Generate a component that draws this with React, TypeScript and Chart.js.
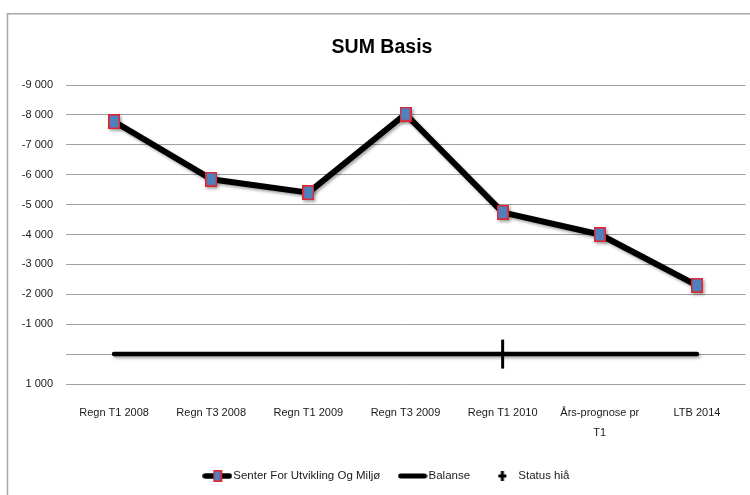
import { useEffect, useRef } from 'react';
import { Chart, registerables } from 'chart.js';

Chart.register(...registerables);

const categories: (string | string[])[] = [
  'Regn T1 2008',
  'Regn T3 2008',
  'Regn T1 2009',
  'Regn T3 2009',
  'Regn T1 2010',
  ['Års-prognose pr', 'T1'],
  'LTB 2014',
];
const senterValues = [-7780, -5850, -5400, -8030, -4740, -4000, -2300];
const balanseValues = [0, 0, 0, 0, 0, 0, 0];
const statusValues: (number | null)[] = [null, null, null, null, 0, null, null];
const seriesLabels = ['Senter For Utvikling Og Miljø', 'Balanse', 'Status hiå'];
const yMin = -9000;
const yMax = 1000;
const yStep = 1000;

const FONT = "'Liberation Sans', Arial, sans-serif";
const MARKER_FILL = '#4f81bd';
const MARKER_EDGE = '#e8212b';

function makeMarker(w: number, h: number) {
  const c = document.createElement('canvas');
  c.width = w;
  c.height = h;
  const ctx = c.getContext('2d')!;
  ctx.fillStyle = MARKER_FILL;
  ctx.fillRect(0, 0, w, h);
  ctx.strokeStyle = MARKER_EDGE;
  ctx.lineWidth = 1.5;
  ctx.strokeRect(0.75, 0.75, w - 1.5, h - 1.5);
  return c;
}

function makeLegendSenter() {
  const c = document.createElement('canvas');
  c.width = 30;
  c.height = 14;
  const ctx = c.getContext('2d')!;
  ctx.strokeStyle = '#000';
  ctx.lineWidth = 5.5;
  ctx.lineCap = 'round';
  ctx.beginPath();
  ctx.moveTo(3, 7);
  ctx.lineTo(27, 7);
  ctx.stroke();
  ctx.drawImage(makeMarker(9, 12), 10.5, 1);
  return c;
}

function makeLegendLine() {
  const c = document.createElement('canvas');
  c.width = 30;
  c.height = 14;
  const ctx = c.getContext('2d')!;
  ctx.strokeStyle = '#000';
  ctx.lineWidth = 5;
  ctx.lineCap = 'round';
  ctx.beginPath();
  ctx.moveTo(3, 7);
  ctx.lineTo(27, 7);
  ctx.stroke();
  return c;
}

function makeLegendStatus() {
  const c = document.createElement('canvas');
  c.width = 30;
  c.height = 14;
  const ctx = c.getContext('2d')!;
  ctx.fillStyle = '#000';
  ctx.fillRect(13.5, 2, 3, 10);
  ctx.fillRect(11, 5.5, 8, 3);
  return c;
}

const fmt = (v: number) => {
  if (v === 0) return '';
  const s = Math.abs(v).toString().replace(/\B(?=(\d{3})+(?!\d))/g, ' ');
  return (v < 0 ? '-' : '') + s;
};

const framePlugin = {
  id: 'frame',
  beforeDraw(chart: any) {
    const ctx = chart.ctx;
    ctx.save();
    ctx.fillStyle = '#fff';
    ctx.fillRect(0, 0, chart.width, chart.height);
    ctx.strokeStyle = '#a6a6a6';
    ctx.lineWidth = 1.5;
    ctx.strokeRect(7.5, 13.75, chart.width + 20, chart.height + 20);
    ctx.restore();
  },
};

// Excel-style: title and legend are centred on the outer frame, not on the canvas
const shiftPlugin = {
  id: 'shiftBlocks',
  afterLayout(chart: any) {
    if (chart.titleBlock) {
      chart.titleBlock.left += 9.25;
      chart.titleBlock.right += 9.25;
    }
    if (chart.legend) {
      chart.legend.left += 15.5;
      chart.legend.right += 15.5;
    }
  },
};

const shadowPlugin = {
  id: 'lineShadow',
  beforeDatasetDraw(chart: any, args: any) {
    if (args.index === 2) return;
    const ctx = chart.ctx;
    ctx.save();
    ctx.shadowColor = 'rgba(0,0,0,0.35)';
    ctx.shadowBlur = 3;
    ctx.shadowOffsetX = 1.5;
    ctx.shadowOffsetY = 2;
  },
  afterDatasetDraw(chart: any, args: any) {
    if (args.index === 2) return;
    chart.ctx.restore();
  },
};

export default function App() {
  const ref = useRef<HTMLCanvasElement>(null);
  useEffect(() => {
    const marker = makeMarker(12, 15);
    const legendIcons = [makeLegendSenter(), makeLegendLine(), makeLegendStatus()];
    const chart = new Chart(ref.current!, {
      type: 'line',
      data: {
        labels: categories,
        datasets: [
          {
            label: seriesLabels[0],
            data: senterValues,
            borderColor: '#000',
            borderWidth: 6,
            borderJoinStyle: 'round',
            pointStyle: marker as any,
            pointRadius: 8,
            tension: 0,
          },
          {
            label: seriesLabels[1],
            data: balanseValues,
            borderColor: '#000',
            borderWidth: 4.5,
            borderCapStyle: 'round',
            pointRadius: 0,
          },
          {
            label: seriesLabels[2],
            data: statusValues,
            showLine: false,
            pointStyle: 'line',
            pointRotation: 90,
            pointRadius: 14.5,
            pointBorderWidth: 3,
            pointBorderColor: '#000',
            borderColor: '#000',
          },
        ],
      },
      options: {
        responsive: false,
        animation: false,
        layout: { autoPadding: false, padding: { left: 0, right: 4.5, top: 0, bottom: 3.25 } },
        scales: {
          x: {
            type: 'category',
            offset: true,
            grid: { display: false, drawTicks: false },
            border: { display: false },
            ticks: {
              color: '#1a1a1a',
              font: { family: FONT, size: 11, lineHeight: '20px' },
              padding: 19,
              maxRotation: 0,
              autoSkip: false,
            },
            afterFit: (s: any) => {
              s.height = 64.25;
              s.paddingLeft = 0;
              s.paddingRight = 0;
            },
          },
          y: {
            reverse: true,
            min: yMin,
            max: yMax,
            grid: { color: '#a0a0a0', lineWidth: 1, drawTicks: false },
            border: { display: false },
            ticks: {
              stepSize: yStep,
              color: '#1a1a1a',
              font: { family: FONT, size: 11 },
              padding: 12.5,
              callback: (v: any) => fmt(Number(v)),
            },
            afterFit: (s: any) => {
              s.width = 65.5;
            },
          },
        },
        plugins: {
          title: {
            display: true,
            text: 'SUM Basis',
            color: '#000',
            font: { family: FONT, size: 19.5, weight: 'bold' },
            padding: { top: 36.3, bottom: 25.3 },
          },
          legend: {
            position: 'bottom',
            labels: {
              usePointStyle: true,
              pointStyleWidth: 20.5,
              color: '#1a1a1a',
              padding: 22,
              font: { family: FONT, size: 11.5 },
              generateLabels: (ch: any) =>
                ch.data.datasets.map((ds: any, i: number) => ({
                  text: ds.label,
                  pointStyle: legendIcons[i],
                  fillStyle: '#000',
                  strokeStyle: '#000',
                  lineWidth: 0,
                  hidden: false,
                  datasetIndex: i,
                  fontColor: '#1a1a1a',
                  rotation: 0,
                })),
            },
          },
          tooltip: { enabled: false },
        },
      },
      plugins: [framePlugin, shiftPlugin, shadowPlugin],
    });
    return () => chart.destroy();
  }, []);
  return (
    <div style={{ position: 'absolute', left: 0, top: 0, width: 750, height: 495 }}>
      <canvas ref={ref} width={750} height={495} style={{ display: 'block' }} />
    </div>
  );
}
